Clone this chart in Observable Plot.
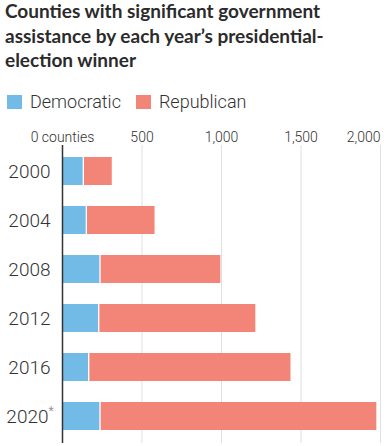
<!DOCTYPE html>
<html>
<head>
<meta charset="utf-8">
<script src="https://cdn.jsdelivr.net/npm/d3@7"></script>
<script src="https://cdn.jsdelivr.net/npm/@observablehq/plot@0.6"></script>
<style>
  body { margin: 0; background: #fff; font-family: Roboto, "Open Sans", sans-serif; color: #333; }
  #title { position: absolute; left: 5px; top: -1px; font-family: Lato, Roboto, sans-serif; font-weight: 700; font-size: 19px; line-height: 24.5px; color: #2b2b2b; width: 383px; }
  #legend { position: absolute; left: 7px; top: 91px; font-size: 18px; font-weight: 300; color: #333; display: flex; align-items: center; }
  #legend span.sw { display: inline-block; width: 15px; height: 14px; margin-right: 8px; }
  #legend span.item { display: inline-flex; align-items: center; margin-right: 15px; }
  #chart { position: absolute; left: 0; top: 118px; }
</style>
</head>
<body>
<div id="title">Counties with significant government<br>assistance by each year’s presidential-<br>election winner</div>
<div id="legend"></div>
<div id="chart"></div>
<script>
const years = ["2000", "2004", "2008", "2012", "2016", "2020"];
const democratic = [130, 149, 235, 227, 164, 235];
const republican = [183, 433, 761, 989, 1273, 1742];
const parties = ["Democratic", "Republican"];
const colors = ["#72bbe6", "#f28578"];
const tickValues = [0, 500, 1000, 1500, 2000];
const tickLabels = ["0 counties", "500", "1,000", "1,500", "2,000"];

const legend = document.getElementById("legend");
parties.forEach((p, i) => {
  const item = document.createElement("span");
  item.className = "item";
  item.innerHTML = `<span class="sw" style="background:${colors[i]}"></span>${p}`;
  legend.appendChild(item);
});

const bars = [];
years.forEach((y, i) => {
  bars.push({year: y, party: parties[0], x1: 0, x2: democratic[i]});
  bars.push({year: y, party: parties[1], x1: democratic[i], x2: democratic[i] + republican[i]});
});
const ticks = tickValues.map((v, i) => ({v, label: tickLabels[i]}));

const chart = Plot.plot({
  width: 388,
  height: 328,
  marginLeft: 62,
  marginRight: 8,
  marginTop: 27,
  marginBottom: 3,
  x: {domain: [0, 2000], axis: null},
  y: {domain: years, axis: null, paddingInner: 0.42, paddingOuter: 0.2},
  color: {domain: parties, range: colors},
  style: {fontFamily: "Roboto, sans-serif", background: "#fff"},
  marks: [
    Plot.ruleX(tickValues.slice(1), {stroke: "#e0e0e0", strokeWidth: 1}),
    Plot.barX(bars.filter(d => d.party === parties[0]), {x1: "x1", x2: "x2", y: "year", fill: colors[0]}),
    Plot.barX(bars.filter(d => d.party === parties[1]), {x1: "x1", x2: "x2", y: "year", fill: colors[1], insetLeft: 1.3}),
    Plot.ruleX([0], {stroke: "#333", strokeWidth: 1.5}),
    Plot.text(ticks.slice(0, -1), {x: "v", text: "label", frameAnchor: "top", dy: -13, fontSize: 14, fontWeight: 300, fill: "#333", textAnchor: "middle"}),
    Plot.text(ticks.slice(-1), {x: "v", text: "label", frameAnchor: "top", dy: -13, fontSize: 14, fontWeight: 300, fill: "#333", textAnchor: "end"}),
    Plot.text(years.slice(0, -1), {x: () => 0, y: d => d, text: d => d, dx: -12, textAnchor: "end", fontSize: 19, fontWeight: 300, fill: "#333"}),
    Plot.text(years.slice(-1), {x: () => 0, y: d => d, text: d => d, dx: -14, textAnchor: "end", fontSize: 19, fontWeight: 300, fill: "#333"}),
    Plot.text(years.slice(-1), {x: () => 0, y: d => d, text: () => "*", dx: -14, dy: -5, textAnchor: "start", fontSize: 12, fill: "#999"})
  ]
});
document.getElementById("chart").appendChild(chart);
</script>
</body>
</html>
